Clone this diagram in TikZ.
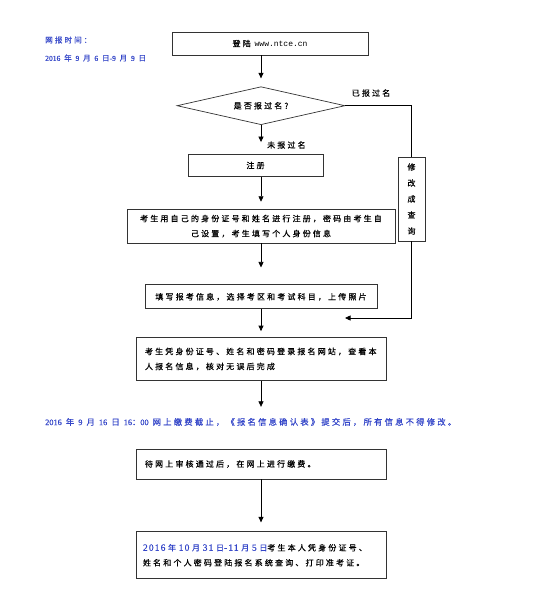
\documentclass[tikz,border=0pt]{standalone}
\usepackage{fontspec}
\newfontfamily\cjk[LetterSpace=27,FakeBold=0.5]{Noto Sans CJK SC}
\newfontfamily\lat[FakeBold=0.4]{Liberation Serif}
\newfontfamily\latg[LetterSpace=12,FakeBold=0.4]{Liberation Serif}
\newfontfamily\mono{Liberation Mono}
\newcommand\num[1]{{\lat #1}}
\newcommand\numg[1]{{\latg\fontsize{9.5}{15}\selectfont #1}}
\usetikzlibrary{positioning,arrows.meta,shapes.geometric}
\definecolor{azul}{RGB}{52,70,200}

\begin{document}
\begin{tikzpicture}[x=1pt, y=-1pt, node distance=30pt,
  every node/.style={font=\cjk\fontsize{8}{15}\selectfont, align=center, inner sep=0pt},
  caja/.style={draw=black!80, line width=0.7pt, minimum height=23pt},
  rombo/.style={draw=black!80, line width=0.7pt, diamond, aspect=4.4, minimum width=168pt, minimum height=38pt},
  flecha/.style={-{Triangle[length=5.5pt,width=5pt]}, line width=0.7pt, shorten >=7pt},
  nota/.style={text=azul, anchor=west}]
\useasboundingbox (0,0) rectangle (540,600);
\node[nota, font=\cjk\fontsize{7.6}{12}\selectfont] (t1) at (45,40) {网报时间：};
\node[nota, font=\cjk\fontsize{7.6}{12}\selectfont] (t2) at (45,58)
  {\num{2016} 年 \num{9} 月 \num{6} 日\num{-9} 月 \num{9} 日};
\node[caja, minimum width=196pt] (l) at (270,43.5) {登陆 {\mono www.ntce.cn}};
\node[rombo, below=31pt of l, xshift=-9pt] (d) {是否报过名?};
\node[caja, minimum width=135pt, minimum height=22pt, below=29pt of d, xshift=-5.5pt] (r) {注册};
\node[caja, minimum width=268pt, minimum height=34pt, below=32pt of r, xshift=5.5pt] (i)
  {考生用自己的身份证号和姓名进行注册，密码由考生自\\己设置，考生填写个人身份信息};
\node[caja, minimum width=232pt, minimum height=24pt, below=41pt of i] (f)
  {填写报考信息，选择考区和考试科目，上传照片};
\node[caja, minimum width=250pt, minimum height=43pt, text width=232pt, align=left, below=28pt of f] (v)
  {考生凭身份证号、姓名和密码登录报名网站，查看本\\人报名信息，核对无误后完成};
\node[nota, font=\cjk\fontsize{8.3}{15}\selectfont] (c) at (45,422)
  {\num{2016} 年 \num{9} 月 \num{16} 日 \num{16}：\num{00} 网上缴费截止，《报名信息确认表》提交后，所有信息不得修改。};
\node[caja, minimum width=250pt, minimum height=30pt, text width=232pt, align=left] (p) at (261,464)
  {待网上审核通过后，在网上进行缴费。};
\node[caja, minimum width=250pt, minimum height=47pt, text width=236pt, align=left, below=52pt of p] (e)
  {{\color{azul}\numg{2016} 年 \numg{10} 月 \numg{31} 日\numg{-11} 月 \numg{5} 日}考生本人凭身份证号、\\姓名和个人密码登陆报名系统查询、打印准考证。};
\node[caja, minimum width=27pt, minimum height=84pt, font=\cjk\fontsize{8}{16}\selectfont] (m) at (411.5,199)
  {修\\改\\成\\查\\询};
\node (ya) at (371,93) {已报过名};
\node[anchor=west] (no) at (267,145) {未报过名};
\coordinate (j) at (345,318);
\draw[flecha, shorten >=8pt] (d.north |- l.south) -- (d.north);
\draw[flecha, shorten >=12pt] (d.south) -- (d.south |- r.north);
\draw[flecha] (i.north |- r.south) -- (i.north);
\draw[flecha, shorten >=17pt] (i.south) -- (f.north);
\draw[flecha, shorten >=6pt] (f.south) -- (v.north);
\draw[flecha, shorten >=11pt] (v.south) -- (v.south |- c.north);
\draw[flecha, shorten >=9pt] (p.south) -- (e.north);
\draw[line width=0.7pt] (d.east) -| (m.north);
\draw[flecha, shorten >=0pt] (m.south) |- (j);
\end{tikzpicture}
\end{document}
